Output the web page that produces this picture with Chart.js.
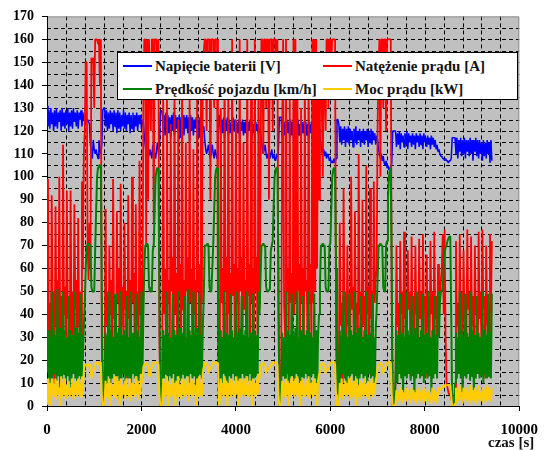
<!DOCTYPE html>
<html>
<head>
<meta charset="utf-8">
<script src="https://cdn.jsdelivr.net/npm/chart.js@4.4.0/dist/chart.umd.min.js"></script>
<style>
body { margin: 0; background: #fff; }
#wrap { position: relative; width: 548px; height: 450px; }
#legend { position: absolute; left: 117px; top: 52px; width: 399px; height: 46px; background: #fff; border: 1px solid #000;
  font: bold 15px "Liberation Serif", "Times New Roman", serif; color: #111; }
.item { position: absolute; height: 20px; line-height: 20px; display: flex; align-items: center; white-space: nowrap; }
.swatch { width: 29px; height: 2px; margin-right: 3px; }
</style>
</head>
<body>
<div id="wrap">
  <canvas id="myChart" width="548" height="450"></canvas>
  <div id="legend">
    <div class="item" style="left:5px;top:3px"><span class="swatch" style="background:#0000ff"></span>Napięcie baterii [V]</div>
    <div class="item" style="left:205px;top:3px"><span class="swatch" style="background:#ff0000"></span>Natężenie prądu [A]</div>
    <div class="item" style="left:5px;top:26px"><span class="swatch" style="background:#008000"></span>Prędkość pojazdu [km/h]</div>
    <div class="item" style="left:205px;top:26px"><span class="swatch" style="background:#ffcc00"></span>Moc prądu [kW]</div>
  </div>
</div>
<script>
// one sample every 20 s
const step = 20;

const voltage = [
  131,122,129,121,130,123,128,120,129,122,130,121,128,124,129,120,130,122,128,121,129,123,130,120,128,122,129,121,130,124,128,122,129,121,128,125,129,122,128,125,124,
  125,124,125,124,123,114,110,108,116,112,110,112,110,108,116,112,110,114, 129,130,
  130,122,129,120,128,121,129,123,128,120,129,122,128,119,129,121,128,120,127,122,129,121,128,120,127,123,128,119,127,121,128,120,127,122,128,120,127,123,127,121,125,124,
  118,114,110,112,108,110,112,110,108,114,112,110,108,112,115,110,114, 128,129,
  128,120,127,118,128,121,127,119,126,117,127,120,128,118,127,121,126,119,127,117,126,120,127,118,126,121,127,119,126,116,127,120,126,118,125,121,126,119,125,117,126,120,125,121,122,
  116,112,110,112,114,110,108,112,114,110,108,112,110,108,113, 127,
  126,118,125,119,126,117,125,120,126,118,125,119,124,117,126,120,125,118,124,119,125,117,124,120,125,118,124,119,125,116,124,120,125,118,124,119,123,117,124,120,123,118,121,120,
  116,112,110,112,114,110,108,110,112,108,110,112,108,110,108,107,110,108,112, 126,126,
  126,117,125,118,124,116,125,119,124,117,125,118,124,116,123,119,124,117,125,118,123,116,124,119,123,117,124,118,123,116,124,119,123,117,124,118,122,116,123,119,121,119,
  114,111,110,112,109,111,108,110,109,107,108,106,107,106,108,106,108, 125,125,
  123,115,122,114,121,116,122,113,121,115,122,114,121,116,120,113,121,115,122,114,120,116,121,113,120,115,121,114,120,116,121,113,120,115,121,114,120,116,119,114,118,116,
  112,110,108,110,107,109,106,105,107,104,105,103,104,103,106, 120,120,120,
  120,113,119,114,120,112,119,115,118,113,119,114,120,112,119,115,118,113,119,114,118,112,119,115,118,113,119,114,118,112,119,115,117,113,118,114,117,112,118,114,117,113,116,112,114,111,112,110,109,
  109,108,108,107,108,107,107,106,107,107,108, 117,117,117,
  117,110,117,108,116,111,117,109,116,110,117,108,116,111,116,109,117,110,116,107,116,111,117,109,116,108,116,110,115,107,116,109,115,108,116,110,115,106,116,107
];

const current = [
  20,99,30,45, 15,92,40,50, 10,87,35,55, 25,100,30,48, 12,114,40,52, 20,94,38,45, 15,94,30,50, 22,88,42,55, 12,82,35,50, 20,98,60,110,120,
  150,150,70,55,80,60,152,150,152,130,160,160,160,158,160,140,160,30, 3,2,
  6,86,35,50, 15,70,40,55, 20,99,38,48, 12,85,45,60, 18,97,35,52, 25,80,42,50, 12,92,38,55, 20,100,45,58, 15,88,35,50, 22,107,40,60, 30,130,
  160,160,70,160,90,160,160,120,160,160,80,160,160,160,140,160,30, 3,2,
  10,140,40,60, 20,135,45,55, 25,123,50,65, 15,140,40,58, 20,125,48,62, 15,145,42,55, 25,115,50,65, 20,138,45,60, 18,112,40,55, 22,142,50,62, 25,135,45,150,155,
  160,160,120,160,160,160,90,160,160,160,130,160,160,160,40, 3,
  20,130,45,60, 25,150,50,65, 15,145,40,58, 20,160,48,62, 25,125,45,60, 15,160,50,65, 20,115,42,55, 25,160,48,62, 15,135,45,60, 20,160,50,65, 25,150,42,90,
  160,160,110,160,160,130,160,160,90,160,160,160,120,160,160,160,140,160,40, 3,2,
  20,120,160,45, 30,160,50,60, 25,135,45,58, 20,160,40,160, 45,150,50,62, 15,130,45,60, 25,145,50,55, 20,152,45,62, 25,160,45,160, 50,160,60,150, 90,140,
  150,130,100,150,140,120,160,160,130,160,160,150,160,160,160,160,40, 3,2,
  15,80,35,45, 10,95,40,50, 20,70,35,48, 15,100,42,52, 20,85,38,45, 12,110,40,50, 18,90,35,48, 22,105,40,52, 15,95,38,50, 20,98,45,55, 60,120,
  150,160,100,160,160,130,160,160,120,160,160,160,160,160,40, 3,2,2,
  10,70,35,45, 20,72,40,50, 15,76,38,45, 25,68,42,50, 12,74,35,48, 20,70,40,45, 15,73,38,50, 25,75,42,48, 12,66,35,45, 20,72,40,50, 15,76,38,48, 22,62,40,45, 55,
  60,75,40,77,30,10,8,6,5,5,3, 2,2,2,
  5,72,35,45, 20,75,40,50, 15,68,38,45, 25,77,42,50, 12,74,35,48, 20,70,40,45, 15,76,38,50, 25,77,42,48, 12,70,35,45, 20,75,40,72
];

const speed = [
  15,33,12,30,3,50,12,33,14,31,10,51,13,32,4,34,12,50,14,33,11,30,13,48,8,33,12,31,14,50,12,34,6,32,13,49,12,31,20,35,45,
  60,70,70,71,70,70,52,50,50,50,68,85,100,104,105,105,104,50, 0,0,
  12,32,10,31,13,50,4,33,12,30,14,49,11,32,13,34,3,50,12,31,14,33,10,48,13,30,12,50,9,32,14,31,12,49,13,33,11,30,14,50,12,40,
  60,70,70,71,70,52,50,50,50,68,70,86,100,103,104,103,50, 0,0,
  10,33,12,31,14,50,8,32,13,30,12,49,14,33,5,31,13,50,12,34,11,32,14,48,12,30,13,51,10,33,14,31,12,50,13,32,6,34,12,49,14,31,12,35,48,
  70,70,70,71,70,52,50,50,60,70,85,100,103,104,102, 0,
  12,33,10,30,14,50,12,32,4,31,13,49,12,33,14,30,11,50,13,32,3,34,12,48,14,31,12,33,13,50,11,30,14,32,5,49,12,33,13,31,14,50,40,55,
  70,70,71,70,70,52,50,50,50,51,68,70,72,88,100,103,104,104,60, 0,0,
  10,32,13,30,12,50,14,33,5,31,12,49,13,32,11,34,14,50,12,30,4,33,13,48,12,31,14,33,12,50,10,32,13,30,14,49,12,33,5,31,40,52,
  70,70,71,70,70,52,50,50,50,70,71,86,100,103,104,103,60, 0,0,
  12,33,10,31,14,50,12,32,4,30,13,49,12,33,14,31,11,50,13,32,5,34,12,48,14,30,12,33,13,50,10,31,14,32,12,49,13,30,6,33,42,55,
  70,70,71,70,70,52,50,50,70,72,90,100,103,104,60, 0,0,0,
  12,33,10,31,14,49,12,32,5,30,13,50,12,33,14,31,11,48,13,32,4,34,12,50,14,30,12,33,13,49,10,31,14,32,12,50,13,30,6,33,12,48,14,31,12,50,30,45,50,
  50,52,60,67,69,70,72,73,74,74,40, 0,0,0,
  10,32,12,30,14,50,12,33,4,31,13,49,12,32,14,30,11,50,13,33,5,31,12,48,14,32,12,30,13,50,10,33,14,31,12,49,13,32,12,49
];

const power = [
  1,12,4,10,0,12,5,9,4,12,3,11,5,8,0,13,4,10,5,12,3,9,5,11,4,8,5,12,3,10,5,11,4,12,5,10,4,13,8,15,18,
  18,18,17,18,18,18,12,15,16,16,18,19,19,18,19,19,19,5, 0,0,
  2,11,4,9,3,12,0,10,5,9,4,13,3,10,5,11,0,12,4,9,5,11,3,12,5,8,4,12,2,10,5,9,4,13,5,11,3,9,5,14,10,17,
  18,18,19,18,18,13,16,16,17,18,19,19,19,19,19,18,5, 0,0,
  1,12,4,10,5,13,0,11,4,9,5,12,4,10,0,11,5,13,4,9,3,12,5,11,4,8,5,13,2,10,5,12,4,11,5,9,0,12,4,13,5,10,4,15,17,
  18,19,18,18,14,16,16,17,18,19,19,19,19,19,18, 0,
  2,12,5,10,4,13,5,11,0,10,5,12,4,11,5,9,4,13,5,11,0,12,4,10,5,12,4,11,5,13,4,9,5,11,0,12,5,10,4,12,5,14,12,17,
  18,18,19,18,18,14,16,16,16,17,18,18,19,19,19,19,19,18,5, 0,0,
  1,11,5,10,4,12,5,11,0,10,4,13,5,11,4,12,5,13,4,10,0,11,5,12,4,9,5,11,4,13,3,10,5,11,4,12,5,10,0,11,14,17,
  18,18,19,18,18,14,16,16,16,18,19,19,19,19,19,18,5, 0,0,
  0,10,4,12,3,9,5,11,4,10,5,12,3,13,4,10,5,11,0,12,4,9,3,11,5,10,4,12,5,9,4,11,3,10,5,12,4,10,5,11,13,17,
  18,18,19,18,18,14,16,16,18,19,19,19,19,19,5, 0,0,0,
  1,7,3,6,2,8,3,7,1,6,3,8,2,7,3,5,1,8,3,7,2,6,1,7,3,8,2,6,3,7,1,8,3,6,2,7,3,5,1,8,3,7,2,6,1,8,5,8,7,
  8,9,8,9,9,9,9,9,9,9,4, 0,0,0,
  1,8,3,7,2,9,3,6,1,8,3,7,2,8,3,6,1,9,3,7,2,8,1,7,3,9,2,6,3,8,1,7,3,9,2,8,3,7,2,8
];

const xMax = 10000, xTickStep = 2000, xGridStep = 400;
const yMax = 170, yTickStep = 10, yGridStep = 5;

function toPoints(arr) {
    return arr.map((v, i) => ({ x: i * step, y: v }));
}

// grey plot area with dashed black grid, like the original
const plotBackground = {
    id: 'plotBackground',
    beforeDraw(chart) {
        const { ctx, chartArea: a, scales } = chart;
        ctx.save();
        ctx.fillStyle = '#c0c0c0';
        ctx.fillRect(a.left, a.top, a.right - a.left, a.bottom - a.top);
        ctx.strokeStyle = '#000';
        ctx.lineWidth = 1;
        ctx.setLineDash([4, 3]);
        ctx.beginPath();
        for (let v = xGridStep; v < xMax; v += xGridStep) {
            const px = Math.round(scales.x.getPixelForValue(v)) + 0.5;
            ctx.moveTo(px, a.top);
            ctx.lineTo(px, a.bottom);
        }
        for (let v = yGridStep; v < yMax; v += yGridStep) {
            const py = Math.round(scales.y.getPixelForValue(v)) + 0.5;
            ctx.moveTo(a.left, py);
            ctx.lineTo(a.right, py);
        }
        ctx.stroke();
        ctx.setLineDash([]);
        ctx.strokeStyle = '#909090';
        ctx.beginPath();
        ctx.moveTo(a.left, a.top + 0.5);
        ctx.lineTo(a.right - 0.5, a.top + 0.5);
        ctx.lineTo(a.right - 0.5, a.bottom);
        ctx.stroke();
        ctx.restore();
    },
    afterDraw(chart) {
        const ctx = chart.ctx;
        ctx.save();
        ctx.font = 'bold 15px "Liberation Serif", serif';
        ctx.fillStyle = '#111';
        ctx.textBaseline = 'alphabetic';
        ctx.fillText('czas [s]', 488, 447);
        ctx.restore();
    }
};

const tickFont = { family: '"Liberation Serif", "Times New Roman", serif', weight: 'bold' };

const ctx = document.getElementById('myChart').getContext('2d');
const myChart = new Chart(ctx, {
    type: 'line',
    data: {
        datasets: [
            { label: 'Napięcie baterii [V]', data: toPoints(voltage), borderColor: '#0000ff', borderWidth: 1.5, order: 4 },
            { label: 'Natężenie prądu [A]', data: toPoints(current), borderColor: '#ff0000', borderWidth: 1.8, order: 3 },
            { label: 'Prędkość pojazdu [km/h]', data: toPoints(speed), borderColor: '#008000', borderWidth: 2, order: 2 },
            { label: 'Moc prądu [kW]', data: toPoints(power), borderColor: '#ffcc00', borderWidth: 2, order: 1 }
        ]
    },
    options: {
        responsive: false,
        animation: false,
        devicePixelRatio: 1,
        layout: { padding: { left: 0, top: 14, right: 20, bottom: 0 } },
        elements: {
            point: { radius: 0, hoverRadius: 0 },
            line: { tension: 0, borderJoinStyle: 'bevel' }
        },
        plugins: {
            legend: { display: false },
            tooltip: { enabled: false }
        },
        scales: {
            x: {
                type: 'linear',
                min: 0,
                max: xMax,
                afterFit(scale) { scale.height = 44; },
                ticks: { stepSize: xTickStep, color: '#000', padding: 10, maxRotation: 0,
                    font: { ...tickFont, size: 15 }, callback: v => String(v) },
                grid: { drawOnChartArea: false, drawTicks: true, tickLength: 5, color: '#000' },
                border: { display: true, color: '#000', width: 1 }
            },
            y: {
                min: 0,
                max: yMax,
                afterFit(scale) { scale.width = 47; },
                ticks: { stepSize: yTickStep, color: '#000', padding: 8, font: { ...tickFont, size: 14 } },
                grid: { drawOnChartArea: false, drawTicks: true, tickLength: 5, color: '#000' },
                border: { display: true, color: '#000', width: 1 }
            }
        }
    },
    plugins: [plotBackground]
});
</script>
</body>
</html>
